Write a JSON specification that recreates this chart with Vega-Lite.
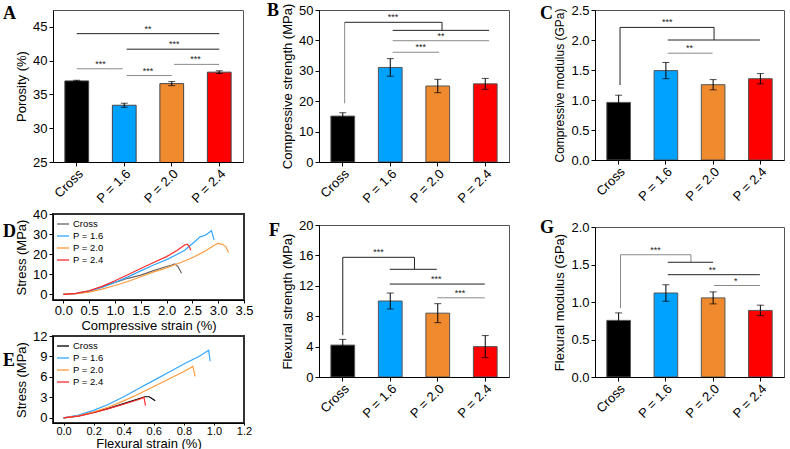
{
"$schema":"https://vega.github.io/schema/vega-lite/v6.json",
"padding":{"left":2,"top":1,"right":0,"bottom":0},
"spacing":11,
"resolve":{"scale":{"color":"independent"},"legend":{"color":"independent"}},
"hconcat":[
 {"vconcat":[
  {"width":190,"height":152,"title":{"text":"A","dx":-50,"dy":17},
   "layer":[
    {"data":{"name":"bars"},"transform":[{"filter":"datum.p==='A'"}],
     "layer":[
      {"mark":{"type":"bar","stroke":"#444","strokeWidth":1,"clip":true},
       "encoding":{"x":{"field":"g","type":"nominal","sort":null,"title":null,"scale":{"paddingInner":0.5,"paddingOuter":0.25}},
        "y":{"field":"v","type":"quantitative","title":"Porosity (%)","scale":{"domain":[25,47.5],"nice":false,"zero":false},"axis":{"values":[25,30,35,40,45]}},
        "color":{"field":"g","type":"nominal","sort":null,"scale":{"domain":["Cross","P = 1.6","P = 2.0","P = 2.4"],"range":["#000000","#00A2FF","#F08A2E","#FF0000"]},"legend":null}}},
      {"mark":{"type":"errorbar","ticks":{"size":7},"color":"#000","thickness":1},
       "encoding":{"x":{"field":"g","type":"nominal","sort":null,"title":null},"y":{"field":"v","type":"quantitative","title":"Porosity (%)","axis":{"values":[25,30,35,40,45]}},"yError":{"field":"e"}}}]},
    {"data":{"name":"brk"},"transform":[{"filter":"datum.p==='A'"}],"mark":{"type":"rule","strokeWidth":1},
     "encoding":{"x":{"field":"a","type":"quantitative","scale":{"domain":[-0.5,3.5],"nice":false,"zero":false},"axis":null},"x2":{"field":"b"},
      "y":{"field":"y","type":"quantitative","title":"Porosity (%)","axis":{"values":[25,30,35,40,45]}},"y2":{"field":"y2"},
      "stroke":{"field":"t","type":"nominal","scale":{"domain":["d","l"],"range":["#222222","#8a8a8a"]},"legend":null}}},
    {"data":{"name":"stars"},"transform":[{"filter":"datum.p==='A'"}],"mark":{"type":"text","fontSize":9,"baseline":"alphabetic","dy":-2,"color":"#222"},
     "encoding":{"x":{"field":"x","type":"quantitative","scale":{"domain":[-0.5,3.5],"nice":false,"zero":false},"axis":null},
      "y":{"field":"y","type":"quantitative","title":"Porosity (%)","axis":{"values":[25,30,35,40,45]}},"text":{"field":"s"}}}],
   "resolve":{"scale":{"x":"independent"}}},
  {"vconcat":[
   {"width":191,"height":86,"title":{"text":"D","dx":-50,"dy":37},"view":{"stroke":"#333","strokeWidth":2},
    "data":{"name":"curvesD"},"mark":{"type":"line","strokeWidth":1.2},
    "encoding":{"x":{"field":"x","type":"quantitative","scale":{"domain":[-0.2,3.5],"nice":false,"zero":false},"axis":{"title":"Compressive strain (%)","values":[0,0.5,1,1.5,2,2.5,3,3.5],"format":".1f","tickSize":3,"labelPadding":1,"titlePadding":2,"labelFlush":false}},
     "y":{"field":"y","type":"quantitative","scale":{"domain":[-2.8,40],"nice":false,"zero":false},"axis":{"title":"Stress (MPa)","values":[0,10,20,30,40]}},
     "color":{"field":"c","type":"nominal","sort":null,"scale":{"domain":["Cross","P = 1.6","P = 2.0","P = 2.4"],"range":["#666666","#33A6FF","#FF9A3C","#FF2A2A"]},
      "legend":{"title":null,"orient":"top-left","offset":3,"padding":0,"symbolType":"stroke","symbolSize":144,"symbolStrokeWidth":1.3,"labelFontSize":9.5,"rowPadding":-2,"labelOffset":3}}}},
   {"width":191,"height":87,"title":{"text":"E","dx":-50,"dy":44},"view":{"stroke":"#333","strokeWidth":2},
    "data":{"name":"curvesE"},"mark":{"type":"line","strokeWidth":1.2},
    "encoding":{"x":{"field":"x","type":"quantitative","scale":{"domain":[-0.07,1.2],"nice":false,"zero":false},"axis":{"title":"Flexural strain (%)","values":[0,0.2,0.4,0.6,0.8,1,1.2],"format":".1f","labelFontSize":11,"tickSize":2,"labelPadding":0,"titlePadding":1,"labelFlush":false}},
     "y":{"field":"y","type":"quantitative","scale":{"domain":[-0.75,12],"nice":false,"zero":false},"axis":{"title":"Stress (MPa)","values":[0,3,6,9,12]}},
     "color":{"field":"c","type":"nominal","sort":null,"scale":{"domain":["Cross","P = 1.6","P = 2.0","P = 2.4"],"range":["#000000","#33A6FF","#FF9A3C","#FF2A2A"]},
      "legend":{"title":null,"orient":"top-left","offset":3,"padding":0,"symbolType":"stroke","symbolSize":144,"symbolStrokeWidth":1.3,"labelFontSize":9.5,"rowPadding":-2,"labelOffset":3}}}}
  ],"spacing":-4,"resolve":{"scale":{"color":"independent"},"legend":{"color":"independent"}}}
 ],"spacing":0,"resolve":{"scale":{"color":"independent"},"legend":{"color":"independent"}}},
 {"hconcat":[
  {"vconcat":[
   {"width":190,"height":152,"title":{"text":"B","dx":-52,"dy":21},
    "layer":[
     {"data":{"name":"bars"},"transform":[{"filter":"datum.p==='B'"}],
      "layer":[
       {"mark":{"type":"bar","stroke":"#555","strokeWidth":1,"clip":true},
        "encoding":{"x":{"field":"g","type":"nominal","sort":null,"title":null,"scale":{"paddingInner":0.5,"paddingOuter":0.25}},
         "y":{"field":"v","type":"quantitative","title":"Compressive strength (MPa)","scale":{"domain":[0,50],"nice":false},"axis":{"values":[0,10,20,30,40,50]}},
         "color":{"field":"g","type":"nominal","sort":null,"scale":{"domain":["Cross","P = 1.6","P = 2.0","P = 2.4"],"range":["#000000","#00A2FF","#F08A2E","#FF0000"]},"legend":null}}},
       {"mark":{"type":"errorbar","ticks":{"size":7},"color":"#000","thickness":1},
        "encoding":{"x":{"field":"g","type":"nominal","sort":null,"title":null},"y":{"field":"v","type":"quantitative","title":"Compressive strength (MPa)","axis":{"values":[0,10,20,30,40,50]}},"yError":{"field":"e"}}}]},
     {"data":{"name":"brk"},"transform":[{"filter":"datum.p==='B'"}],"mark":{"type":"rule","strokeWidth":1},
      "encoding":{"x":{"field":"a","type":"quantitative","scale":{"domain":[-0.5,3.5],"nice":false,"zero":false},"axis":null},"x2":{"field":"b"},
       "y":{"field":"y","type":"quantitative","title":"Compressive strength (MPa)","axis":{"values":[0,10,20,30,40,50]}},"y2":{"field":"y2"},
       "stroke":{"field":"t","type":"nominal","scale":{"domain":["d","l"],"range":["#222222","#8a8a8a"]},"legend":null}}},
     {"data":{"name":"stars"},"transform":[{"filter":"datum.p==='B'"}],"mark":{"type":"text","fontSize":9,"baseline":"alphabetic","dy":-2,"color":"#222"},
      "encoding":{"x":{"field":"x","type":"quantitative","scale":{"domain":[-0.5,3.5],"nice":false,"zero":false},"axis":null},
       "y":{"field":"y","type":"quantitative","title":"Compressive strength (MPa)","axis":{"values":[0,10,20,30,40,50]}},"text":{"field":"s"}}}],
    "resolve":{"scale":{"x":"independent"}}},
   {"width":190,"height":152,"title":{"text":"F","dx":-50,"dy":25},
    "layer":[
     {"data":{"name":"bars"},"transform":[{"filter":"datum.p==='F'"}],
      "layer":[
       {"mark":{"type":"bar","stroke":"#555","strokeWidth":1,"clip":true},
        "encoding":{"x":{"field":"g","type":"nominal","sort":null,"title":null,"scale":{"paddingInner":0.5,"paddingOuter":0.25}},
         "y":{"field":"v","type":"quantitative","title":"Flexural strength (MPa)","scale":{"domain":[0,20],"nice":false},"axis":{"values":[0,4,8,12,16,20]}},
         "color":{"field":"g","type":"nominal","sort":null,"scale":{"domain":["Cross","P = 1.6","P = 2.0","P = 2.4"],"range":["#000000","#00A2FF","#F08A2E","#FF0000"]},"legend":null}}},
       {"mark":{"type":"errorbar","ticks":{"size":7},"color":"#000","thickness":1},
        "encoding":{"x":{"field":"g","type":"nominal","sort":null,"title":null},"y":{"field":"v","type":"quantitative","title":"Flexural strength (MPa)","axis":{"values":[0,4,8,12,16,20]}},"yError":{"field":"e"}}}]},
     {"data":{"name":"brk"},"transform":[{"filter":"datum.p==='F'"}],"mark":{"type":"rule","strokeWidth":1},
      "encoding":{"x":{"field":"a","type":"quantitative","scale":{"domain":[-0.5,3.5],"nice":false,"zero":false},"axis":null},"x2":{"field":"b"},
       "y":{"field":"y","type":"quantitative","title":"Flexural strength (MPa)","axis":{"values":[0,4,8,12,16,20]}},"y2":{"field":"y2"},
       "stroke":{"field":"t","type":"nominal","scale":{"domain":["d","l"],"range":["#222222","#8a8a8a"]},"legend":null}}},
     {"data":{"name":"stars"},"transform":[{"filter":"datum.p==='F'"}],"mark":{"type":"text","fontSize":9,"baseline":"alphabetic","dy":-2,"color":"#222"},
      "encoding":{"x":{"field":"x","type":"quantitative","scale":{"domain":[-0.5,3.5],"nice":false,"zero":false},"axis":null},
       "y":{"field":"y","type":"quantitative","title":"Flexural strength (MPa)","axis":{"values":[0,4,8,12,16,20]}},"text":{"field":"s"}}}],
    "resolve":{"scale":{"x":"independent"}}}
  ],"spacing":11,"resolve":{"scale":{"color":"independent"},"legend":{"color":"independent"}}},
  {"vconcat":[
   {"width":189,"height":150,"title":{"text":"C","dx":-55,"dy":23},
    "layer":[
     {"data":{"name":"bars"},"transform":[{"filter":"datum.p==='C'"}],
      "layer":[
       {"mark":{"type":"bar","stroke":"#555","strokeWidth":1,"clip":true},
        "encoding":{"x":{"field":"g","type":"nominal","sort":null,"title":null,"scale":{"paddingInner":0.5,"paddingOuter":0.25}},
         "y":{"field":"v","type":"quantitative","title":"Compressive modulus (GPa)","scale":{"domain":[0,2.5],"nice":false},"axis":{"values":[0,0.5,1,1.5,2,2.5],"format":".1f","titleFontSize":12}},
         "color":{"field":"g","type":"nominal","sort":null,"scale":{"domain":["Cross","P = 1.6","P = 2.0","P = 2.4"],"range":["#000000","#00A2FF","#F08A2E","#FF0000"]},"legend":null}}},
       {"mark":{"type":"errorbar","ticks":{"size":7},"color":"#000","thickness":1},
        "encoding":{"x":{"field":"g","type":"nominal","sort":null,"title":null},"y":{"field":"v","type":"quantitative","title":"Compressive modulus (GPa)","axis":{"values":[0,0.5,1,1.5,2,2.5],"format":".1f","titleFontSize":12}},"yError":{"field":"e"}}}]},
     {"data":{"name":"brk"},"transform":[{"filter":"datum.p==='C'"}],"mark":{"type":"rule","strokeWidth":1},
      "encoding":{"x":{"field":"a","type":"quantitative","scale":{"domain":[-0.5,3.5],"nice":false,"zero":false},"axis":null},"x2":{"field":"b"},
       "y":{"field":"y","type":"quantitative","title":"Compressive modulus (GPa)","axis":{"values":[0,0.5,1,1.5,2,2.5],"format":".1f","titleFontSize":12}},"y2":{"field":"y2"},
       "stroke":{"field":"t","type":"nominal","scale":{"domain":["d","l"],"range":["#222222","#8a8a8a"]},"legend":null}}},
     {"data":{"name":"stars"},"transform":[{"filter":"datum.p==='C'"}],"mark":{"type":"text","fontSize":9,"baseline":"alphabetic","dy":-2,"color":"#222"},
      "encoding":{"x":{"field":"x","type":"quantitative","scale":{"domain":[-0.5,3.5],"nice":false,"zero":false},"axis":null},
       "y":{"field":"y","type":"quantitative","title":"Compressive modulus (GPa)","axis":{"values":[0,0.5,1,1.5,2,2.5],"format":".1f","titleFontSize":12}},"text":{"field":"s"}}}],
    "resolve":{"scale":{"x":"independent"}}},
   {"width":189,"height":150,"title":{"text":"G","dx":-55,"dy":20},
    "layer":[
     {"data":{"name":"bars"},"transform":[{"filter":"datum.p==='G'"}],
      "layer":[
       {"mark":{"type":"bar","stroke":"#555","strokeWidth":1,"clip":true},
        "encoding":{"x":{"field":"g","type":"nominal","sort":null,"title":null,"scale":{"paddingInner":0.5,"paddingOuter":0.25}},
         "y":{"field":"v","type":"quantitative","title":"Flexural modulus (GPa)","scale":{"domain":[0,2],"nice":false},"axis":{"values":[0,0.5,1,1.5,2],"format":".1f"}},
         "color":{"field":"g","type":"nominal","sort":null,"scale":{"domain":["Cross","P = 1.6","P = 2.0","P = 2.4"],"range":["#000000","#00A2FF","#F08A2E","#FF0000"]},"legend":null}}},
       {"mark":{"type":"errorbar","ticks":{"size":7},"color":"#000","thickness":1},
        "encoding":{"x":{"field":"g","type":"nominal","sort":null,"title":null},"y":{"field":"v","type":"quantitative","title":"Flexural modulus (GPa)","axis":{"values":[0,0.5,1,1.5,2],"format":".1f"}},"yError":{"field":"e"}}}]},
     {"data":{"name":"brk"},"transform":[{"filter":"datum.p==='G'"}],"mark":{"type":"rule","strokeWidth":1},
      "encoding":{"x":{"field":"a","type":"quantitative","scale":{"domain":[-0.5,3.5],"nice":false,"zero":false},"axis":null},"x2":{"field":"b"},
       "y":{"field":"y","type":"quantitative","title":"Flexural modulus (GPa)","axis":{"values":[0,0.5,1,1.5,2],"format":".1f"}},"y2":{"field":"y2"},
       "stroke":{"field":"t","type":"nominal","scale":{"domain":["d","l"],"range":["#222222","#8a8a8a"]},"legend":null}}},
     {"data":{"name":"stars"},"transform":[{"filter":"datum.p==='G'"}],"mark":{"type":"text","fontSize":9,"baseline":"alphabetic","dy":-2,"color":"#222"},
      "encoding":{"x":{"field":"x","type":"quantitative","scale":{"domain":[-0.5,3.5],"nice":false,"zero":false},"axis":null},
       "y":{"field":"y","type":"quantitative","title":"Flexural modulus (GPa)","axis":{"values":[0,0.5,1,1.5,2],"format":".1f"}},"text":{"field":"s"}}}],
    "resolve":{"scale":{"x":"independent"}}}
  ],"spacing":13,"resolve":{"scale":{"color":"independent"},"legend":{"color":"independent"}}}
 ],"spacing":29,"resolve":{"scale":{"color":"independent"},"legend":{"color":"independent"}}}
],
"datasets":{
 "bars":[
  {"p":"A","g":"Cross","v":37.0,"e":0.1},{"p":"A","g":"P = 1.6","v":33.4,"e":0.3},{"p":"A","g":"P = 2.0","v":36.6,"e":0.3},{"p":"A","g":"P = 2.4","v":38.3,"e":0.2},
  {"p":"B","g":"Cross","v":15.1,"e":1.1},{"p":"B","g":"P = 1.6","v":31.1,"e":2.9},{"p":"B","g":"P = 2.0","v":25.0,"e":2.2},{"p":"B","g":"P = 2.4","v":25.7,"e":1.8},
  {"p":"C","g":"Cross","v":0.96,"e":0.12},{"p":"C","g":"P = 1.6","v":1.49,"e":0.135},{"p":"C","g":"P = 2.0","v":1.255,"e":0.085},{"p":"C","g":"P = 2.4","v":1.355,"e":0.085},
  {"p":"F","g":"Cross","v":4.2,"e":0.75},{"p":"F","g":"P = 1.6","v":10.0,"e":1.05},{"p":"F","g":"P = 2.0","v":8.4,"e":1.25},{"p":"F","g":"P = 2.4","v":4.0,"e":1.45},
  {"p":"G","g":"Cross","v":0.755,"e":0.1},{"p":"G","g":"P = 1.6","v":1.12,"e":0.11},{"p":"G","g":"P = 2.0","v":1.055,"e":0.08},{"p":"G","g":"P = 2.4","v":0.888,"e":0.07}
 ],
 "brk":[
  {"p":"A","a":0,"b":3,"y":44.0,"y2":44.0,"t":"d"},
  {"p":"A","a":1.05,"b":3,"y":41.7,"y2":41.7,"t":"d"},
  {"p":"A","a":0,"b":0.97,"y":38.8,"y2":38.8,"t":"l"},
  {"p":"A","a":1.05,"b":2,"y":37.8,"y2":37.8,"t":"l"},
  {"p":"A","a":2.05,"b":3,"y":39.45,"y2":39.45,"t":"l"},
  {"p":"B","a":0.04,"b":0.04,"y":19.3,"y2":45.95,"t":"l"},
  {"p":"B","a":0.04,"b":2.09,"y":45.95,"y2":45.95,"t":"d"},
  {"p":"B","a":2.09,"b":2.09,"y":43.3,"y2":45.95,"t":"d"},
  {"p":"B","a":1.05,"b":3.08,"y":43.3,"y2":43.3,"t":"d"},
  {"p":"B","a":1.05,"b":3.08,"y":39.9,"y2":39.9,"t":"l"},
  {"p":"B","a":1.05,"b":2.03,"y":36.1,"y2":36.1,"t":"l"},
  {"p":"C","a":0.03,"b":0.03,"y":1.25,"y2":2.21,"t":"d"},
  {"p":"C","a":0.03,"b":2.02,"y":2.21,"y2":2.21,"t":"d"},
  {"p":"C","a":2.02,"b":2.02,"y":2.0,"y2":2.21,"t":"d"},
  {"p":"C","a":1.04,"b":2.99,"y":2.0,"y2":2.0,"t":"d"},
  {"p":"C","a":1.04,"b":1.99,"y":1.78,"y2":1.78,"t":"l"},
  {"p":"F","a":0,"b":0,"y":5.5,"y2":15.75,"t":"d"},
  {"p":"F","a":0,"b":1.51,"y":15.75,"y2":15.75,"t":"d"},
  {"p":"F","a":1.51,"b":1.51,"y":14.17,"y2":15.75,"t":"d"},
  {"p":"F","a":0.99,"b":1.98,"y":14.17,"y2":14.17,"t":"d"},
  {"p":"F","a":0.99,"b":2.99,"y":12.23,"y2":12.23,"t":"d"},
  {"p":"F","a":1.99,"b":2.99,"y":10.42,"y2":10.42,"t":"l"},
  {"p":"G","a":0.04,"b":0.04,"y":0.92,"y2":1.63,"t":"l"},
  {"p":"G","a":0.04,"b":1.53,"y":1.63,"y2":1.63,"t":"l"},
  {"p":"G","a":1.53,"b":1.53,"y":1.53,"y2":1.63,"t":"l"},
  {"p":"G","a":1.04,"b":2.0,"y":1.53,"y2":1.53,"t":"d"},
  {"p":"G","a":1.04,"b":2.99,"y":1.364,"y2":1.364,"t":"d"},
  {"p":"G","a":2.02,"b":2.99,"y":1.22,"y2":1.22,"t":"l"}
 ],
 "stars":[
  {"p":"A","x":1.5,"y":44.0,"s":"**"},{"p":"A","x":2.05,"y":41.7,"s":"***"},{"p":"A","x":0.5,"y":38.8,"s":"***"},{"p":"A","x":1.5,"y":37.8,"s":"***"},{"p":"A","x":2.5,"y":39.45,"s":"***"},
  {"p":"B","x":1.06,"y":45.95,"s":"***"},{"p":"B","x":2.07,"y":39.9,"s":"**"},{"p":"B","x":1.64,"y":36.1,"s":"***"},
  {"p":"C","x":1.03,"y":2.21,"s":"***"},{"p":"C","x":1.5,"y":1.78,"s":"**"},
  {"p":"F","x":0.75,"y":15.75,"s":"***"},{"p":"F","x":1.97,"y":12.23,"s":"***"},{"p":"F","x":2.47,"y":10.42,"s":"***"},
  {"p":"G","x":0.78,"y":1.63,"s":"***"},{"p":"G","x":1.98,"y":1.364,"s":"**"},{"p":"G","x":2.48,"y":1.22,"s":"*"}
 ],
 "curvesD":[
  {"c":"Cross","x":0,"y":0},{"c":"Cross","x":0.25,"y":0.5},{"c":"Cross","x":0.5,"y":1.8},{"c":"Cross","x":0.75,"y":3.8},{"c":"Cross","x":1.0,"y":6.0},{"c":"Cross","x":1.25,"y":8.0},{"c":"Cross","x":1.5,"y":9.6},{"c":"Cross","x":1.75,"y":11.8},{"c":"Cross","x":1.95,"y":13.5},{"c":"Cross","x":2.1,"y":14.6},{"c":"Cross","x":2.16,"y":15.2},{"c":"Cross","x":2.22,"y":13.8},{"c":"Cross","x":2.26,"y":12.0},{"c":"Cross","x":2.29,"y":10.5},
  {"c":"P = 1.6","x":0,"y":0},{"c":"P = 1.6","x":0.25,"y":0.4},{"c":"P = 1.6","x":0.5,"y":1.5},{"c":"P = 1.6","x":0.75,"y":3.4},{"c":"P = 1.6","x":1.0,"y":5.9},{"c":"P = 1.6","x":1.25,"y":8.7},{"c":"P = 1.6","x":1.5,"y":11.7},{"c":"P = 1.6","x":1.75,"y":14.6},{"c":"P = 1.6","x":2.0,"y":17.3},{"c":"P = 1.6","x":2.2,"y":19.8},{"c":"P = 1.6","x":2.35,"y":22.0},{"c":"P = 1.6","x":2.45,"y":24.2},{"c":"P = 1.6","x":2.55,"y":26.3},{"c":"P = 1.6","x":2.65,"y":28.6},{"c":"P = 1.6","x":2.75,"y":29.4},{"c":"P = 1.6","x":2.87,"y":31.7},{"c":"P = 1.6","x":2.9,"y":29.0},{"c":"P = 1.6","x":2.92,"y":27.0},
  {"c":"P = 2.0","x":0,"y":0},{"c":"P = 2.0","x":0.25,"y":0.3},{"c":"P = 2.0","x":0.5,"y":1.1},{"c":"P = 2.0","x":0.75,"y":2.6},{"c":"P = 2.0","x":1.0,"y":4.4},{"c":"P = 2.0","x":1.25,"y":6.4},{"c":"P = 2.0","x":1.5,"y":8.8},{"c":"P = 2.0","x":1.75,"y":11.2},{"c":"P = 2.0","x":2.0,"y":13.2},{"c":"P = 2.0","x":2.25,"y":15.6},{"c":"P = 2.0","x":2.5,"y":18.2},{"c":"P = 2.0","x":2.75,"y":21.6},{"c":"P = 2.0","x":2.95,"y":24.8},{"c":"P = 2.0","x":3.0,"y":25.4},{"c":"P = 2.0","x":3.08,"y":24.9},{"c":"P = 2.0","x":3.15,"y":23.8},{"c":"P = 2.0","x":3.2,"y":20.8},
  {"c":"P = 2.4","x":0,"y":0},{"c":"P = 2.4","x":0.25,"y":0.5},{"c":"P = 2.4","x":0.5,"y":1.8},{"c":"P = 2.4","x":0.75,"y":4.0},{"c":"P = 2.4","x":1.0,"y":6.8},{"c":"P = 2.4","x":1.25,"y":9.8},{"c":"P = 2.4","x":1.5,"y":12.9},{"c":"P = 2.4","x":1.75,"y":15.9},{"c":"P = 2.4","x":2.0,"y":18.8},{"c":"P = 2.4","x":2.2,"y":21.8},{"c":"P = 2.4","x":2.35,"y":24.6},{"c":"P = 2.4","x":2.4,"y":25.0},{"c":"P = 2.4","x":2.44,"y":23.8},{"c":"P = 2.4","x":2.47,"y":22.0}
 ],
 "curvesE":[
  {"c":"Cross","x":0,"y":0},{"c":"Cross","x":0.1,"y":0.3},{"c":"Cross","x":0.2,"y":0.8},{"c":"Cross","x":0.3,"y":1.4},{"c":"Cross","x":0.4,"y":2.1},{"c":"Cross","x":0.5,"y":2.8},{"c":"Cross","x":0.54,"y":3.1},{"c":"Cross","x":0.57,"y":3.1},{"c":"Cross","x":0.59,"y":2.8},{"c":"Cross","x":0.61,"y":2.5},
  {"c":"P = 1.6","x":0,"y":0},{"c":"P = 1.6","x":0.1,"y":0.4},{"c":"P = 1.6","x":0.2,"y":1.1},{"c":"P = 1.6","x":0.3,"y":2.0},{"c":"P = 1.6","x":0.4,"y":3.1},{"c":"P = 1.6","x":0.5,"y":4.3},{"c":"P = 1.6","x":0.6,"y":5.5},{"c":"P = 1.6","x":0.7,"y":6.7},{"c":"P = 1.6","x":0.8,"y":7.9},{"c":"P = 1.6","x":0.9,"y":9.0},{"c":"P = 1.6","x":0.965,"y":9.9},{"c":"P = 1.6","x":0.975,"y":8.3},
  {"c":"P = 2.0","x":0,"y":0},{"c":"P = 2.0","x":0.1,"y":0.3},{"c":"P = 2.0","x":0.2,"y":0.85},{"c":"P = 2.0","x":0.3,"y":1.6},{"c":"P = 2.0","x":0.4,"y":2.5},{"c":"P = 2.0","x":0.5,"y":3.5},{"c":"P = 2.0","x":0.6,"y":4.6},{"c":"P = 2.0","x":0.7,"y":5.7},{"c":"P = 2.0","x":0.8,"y":6.8},{"c":"P = 2.0","x":0.86,"y":7.55},{"c":"P = 2.0","x":0.875,"y":6.1},
  {"c":"P = 2.4","x":0,"y":0},{"c":"P = 2.4","x":0.1,"y":0.25},{"c":"P = 2.4","x":0.2,"y":0.75},{"c":"P = 2.4","x":0.3,"y":1.35},{"c":"P = 2.4","x":0.4,"y":2.0},{"c":"P = 2.4","x":0.5,"y":2.7},{"c":"P = 2.4","x":0.535,"y":3.0},{"c":"P = 2.4","x":0.54,"y":2.4},{"c":"P = 2.4","x":0.545,"y":1.8}
 ]
},
"config":{
 "font":"Liberation Sans",
 "view":{"stroke":"#555"},
 "axis":{"grid":false,"labelOverlap":false,"domainColor":"#000","tickColor":"#000","labelColor":"#000","titleColor":"#000","labelFontSize":13,"titleFontSize":13,"titleFontWeight":"normal","tickSize":4,"labelPadding":2,"titlePadding":4,"labelFont":"Liberation Sans","titleFont":"Liberation Sans"},
 "axisBand":{"labelAngle":-45,"labelAlign":"right","labelBaseline":"top","labelPadding":1},
 "title":{"font":"Liberation Serif","fontSize":18,"fontWeight":"bold","anchor":"start","frame":"group","color":"#000","offset":0,"baseline":"alphabetic"},
 "legend":{"labelFont":"Liberation Sans","labelColor":"#000"}
}
}
